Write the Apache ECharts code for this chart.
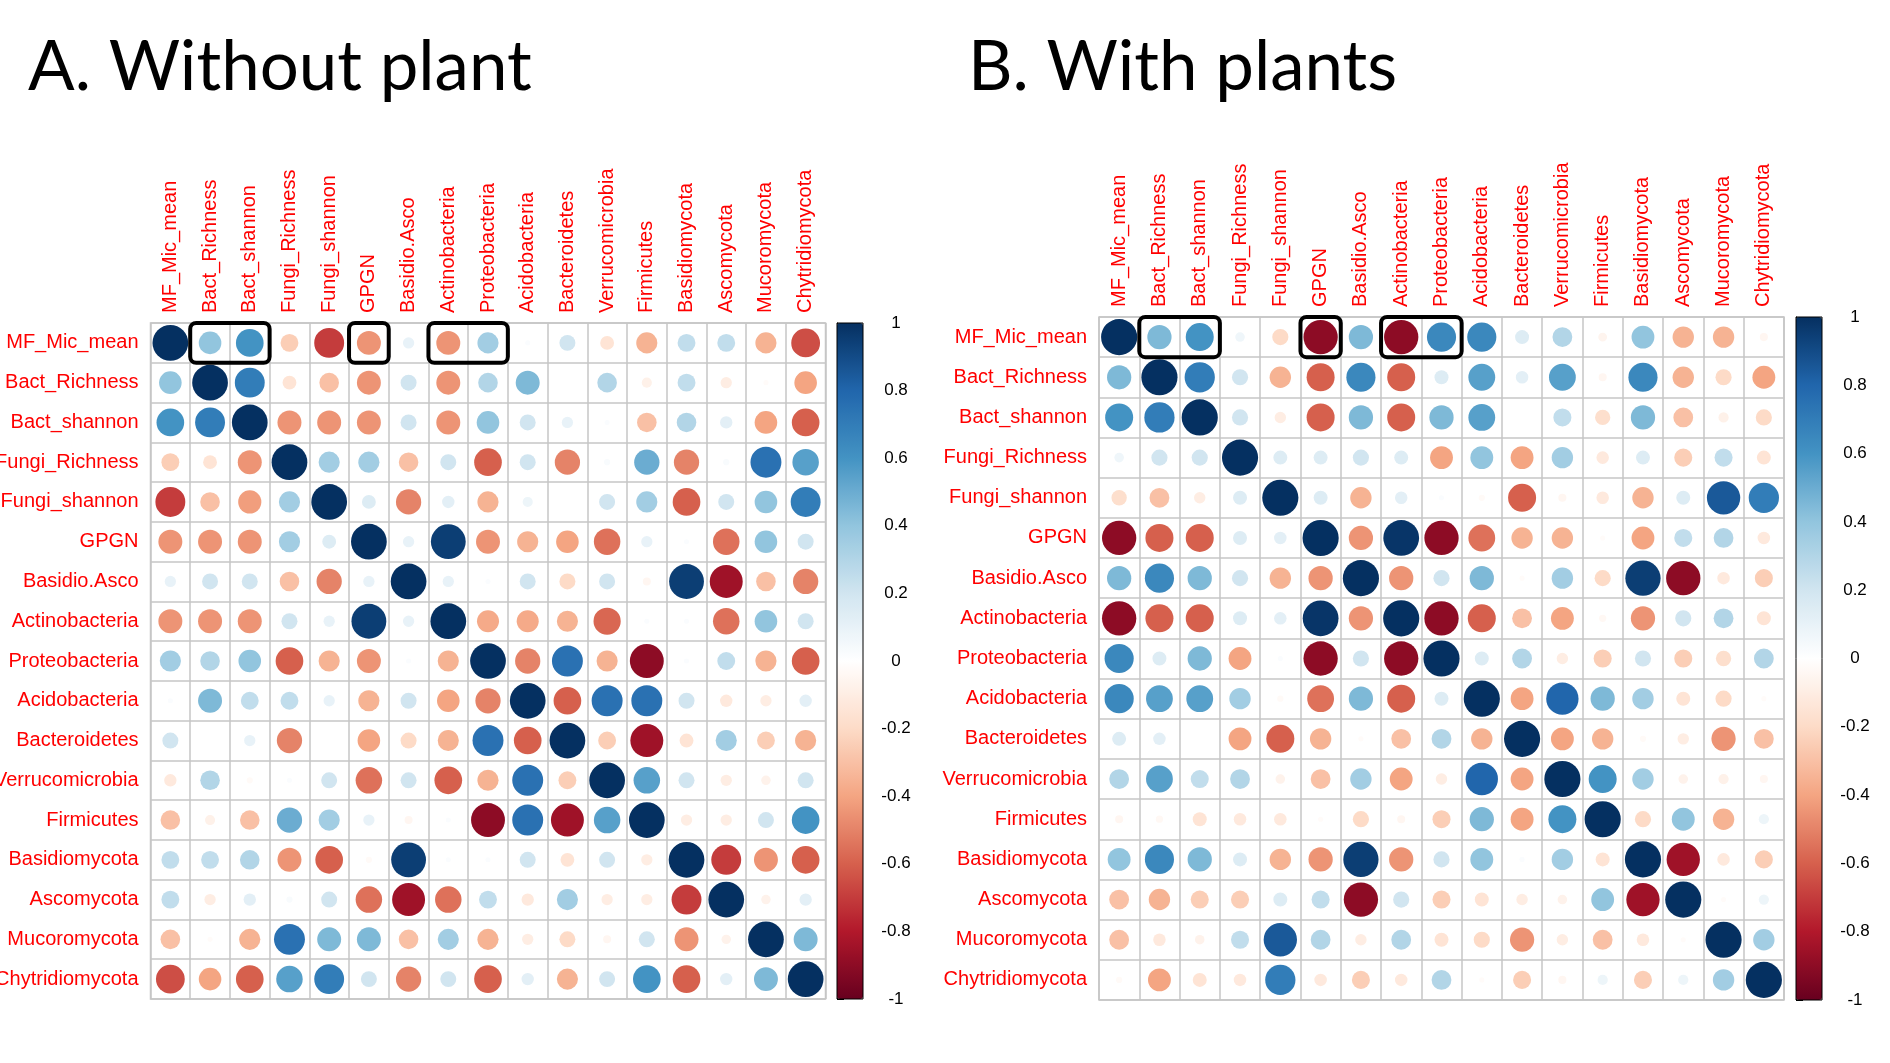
<!DOCTYPE html>
<html><head><meta charset="utf-8">
<script src="https://cdn.jsdelivr.net/npm/echarts@6/dist/echarts.min.js"></script>
<style>html,body{margin:0;padding:0;background:#fff}#c{width:1890px;height:1063px}</style>
</head><body><div id="c"></div><script>
const variables = ['MF_Mic_mean','Bact_Richness','Bact_shannon','Fungi_Richness','Fungi_shannon','GPGN','Basidio.Asco','Actinobacteria','Proteobacteria','Acidobacteria','Bacteroidetes','Verrucomicrobia','Firmicutes','Basidiomycota','Ascomycota','Mucoromycota','Chytridiomycota'];

// Panel A: without plant (rows follow `variables`)
const corrWithoutPlant = [
  [1, 0.4, 0.6, -0.25, -0.7, -0.45, 0.1, -0.45, 0.35, 0.02, 0.2, -0.15, -0.35, 0.25, 0.25, -0.35, -0.65],
  [0.4, 1, 0.7, -0.15, -0.3, -0.45, 0.2, -0.45, 0.3, 0.45, 0, 0.3, -0.08, 0.25, -0.1, -0.02, -0.4],
  [0.6, 0.7, 1, -0.45, -0.45, -0.45, 0.2, -0.45, 0.4, 0.2, 0.1, 0.02, -0.3, 0.3, 0.12, -0.4, -0.6],
  [-0.25, -0.15, -0.45, 1, 0.35, 0.35, -0.3, 0.2, -0.6, 0.2, -0.5, 0.03, 0.5, -0.5, 0.03, 0.75, 0.55],
  [-0.7, -0.3, -0.42, 0.35, 1, 0.15, -0.5, 0.12, -0.35, 0.08, 0, 0.2, 0.35, -0.6, 0.2, 0.4, 0.7],
  [-0.45, -0.45, -0.45, 0.35, 0.15, 1, 0.1, 0.95, -0.45, -0.35, -0.4, -0.55, 0.1, 0.02, -0.55, 0.4, 0.2],
  [0.1, 0.2, 0.2, -0.3, -0.5, 0.1, 1, 0.1, 0.02, 0.2, -0.2, 0.2, -0.05, 0.95, -0.85, -0.3, -0.5],
  [-0.45, -0.45, -0.45, 0.2, 0.1, 0.95, 0.1, 1, -0.38, -0.38, -0.35, -0.58, 0.02, 0.02, -0.55, 0.4, 0.2],
  [0.35, 0.3, 0.4, -0.6, -0.35, -0.45, 0.02, -0.35, 1, -0.5, 0.75, -0.35, -0.9, 0.02, 0.25, -0.35, -0.6],
  [0.02, 0.45, 0.25, 0.25, 0.1, -0.35, 0.2, -0.4, -0.5, 1, -0.6, 0.75, 0.75, 0.2, -0.12, -0.1, 0.12],
  [0.2, 0, 0.1, -0.5, 0, -0.4, -0.2, -0.35, 0.75, -0.6, 1, -0.25, -0.85, -0.15, 0.35, -0.25, -0.35],
  [-0.12, 0.3, -0.03, 0.02, 0.2, -0.55, 0.2, -0.6, -0.35, 0.75, -0.25, 1, 0.55, 0.2, -0.1, -0.07, 0.2],
  [-0.3, -0.08, -0.3, 0.5, 0.35, 0.1, -0.05, 0.02, -0.9, 0.75, -0.85, 0.55, 1, -0.1, -0.1, 0.2, 0.6],
  [0.25, 0.25, 0.3, -0.45, -0.6, -0.03, 0.95, 0.02, 0.02, 0.2, -0.15, 0.2, -0.1, 1, -0.7, -0.45, -0.6],
  [0.25, -0.1, 0.12, 0.03, 0.2, -0.55, -0.85, -0.55, 0.25, -0.12, 0.35, -0.1, -0.1, -0.7, 1, -0.07, 0.12],
  [-0.3, -0.02, -0.35, 0.75, 0.45, 0.45, -0.3, 0.35, -0.35, -0.1, -0.2, -0.05, 0.2, -0.45, -0.07, 1, 0.45],
  [-0.65, -0.4, -0.6, 0.55, 0.7, 0.2, -0.5, 0.2, -0.6, 0.12, -0.35, 0.2, 0.6, -0.6, 0.12, 0.45, 1]
];

// Panel B: with plants
const corrWithPlants = [
  [1, 0.45, 0.6, 0.07, -0.2, -0.9, 0.45, -0.9, 0.65, 0.65, 0.15, 0.3, -0.06, 0.4, -0.35, -0.35, -0.05],
  [0.45, 1, 0.7, 0.2, -0.35, -0.6, 0.65, -0.6, 0.15, 0.55, 0.12, 0.55, -0.05, 0.65, -0.35, -0.2, -0.4],
  [0.6, 0.7, 1, 0.2, -0.1, -0.6, 0.45, -0.6, 0.45, 0.55, 0, 0.25, -0.18, 0.45, -0.3, -0.08, -0.2],
  [0.07, 0.2, 0.2, 1, 0.15, 0.15, 0.2, 0.15, -0.4, 0.4, -0.4, 0.35, -0.12, 0.15, -0.25, 0.25, -0.15],
  [-0.18, -0.3, -0.1, 0.15, 1, 0.15, -0.35, 0.12, 0.02, -0.03, -0.6, -0.05, -0.12, -0.35, 0.15, 0.85, 0.7],
  [-0.9, -0.6, -0.6, 0.15, 0.12, 1, -0.45, 0.98, -0.9, -0.55, -0.35, -0.35, -0.02, -0.4, 0.25, 0.3, -0.12],
  [0.45, 0.65, 0.45, 0.2, -0.35, -0.45, 1, -0.45, 0.2, 0.45, -0.02, 0.35, -0.2, 0.95, -0.9, -0.12, -0.25],
  [-0.9, -0.6, -0.6, 0.15, 0.12, 0.98, -0.45, 1, -0.9, -0.6, -0.3, -0.4, -0.04, -0.45, 0.2, 0.3, -0.15],
  [0.65, 0.15, 0.45, -0.4, 0.02, -0.9, 0.2, -0.9, 1, 0.15, 0.3, -0.1, -0.25, 0.2, -0.25, -0.18, 0.3],
  [0.65, 0.55, 0.55, 0.35, -0.03, -0.55, 0.45, -0.6, 0.15, 1, -0.4, 0.8, 0.45, 0.35, -0.15, -0.2, -0.02],
  [0.15, 0.12, 0, -0.4, -0.6, -0.35, -0.02, -0.3, 0.3, -0.35, 1, -0.4, -0.35, -0.03, -0.1, -0.45, -0.3],
  [0.3, 0.55, 0.25, 0.3, -0.07, -0.3, 0.35, -0.4, -0.1, 0.8, -0.4, 1, 0.6, 0.35, -0.07, -0.08, -0.05],
  [-0.05, -0.04, -0.15, -0.12, -0.12, -0.02, -0.2, -0.05, -0.25, 0.45, -0.4, 0.6, 1, -0.2, 0.4, -0.35, 0.08],
  [0.4, 0.65, 0.45, 0.15, -0.35, -0.45, 0.95, -0.45, 0.2, 0.4, 0.02, 0.35, -0.15, 1, -0.85, -0.12, -0.25],
  [-0.3, -0.35, -0.25, -0.25, 0.15, 0.25, -0.9, 0.2, -0.25, -0.15, -0.1, -0.07, 0.4, -0.85, 1, -0.02, 0.08],
  [-0.3, -0.12, -0.07, 0.25, 0.85, 0.3, -0.1, 0.3, -0.15, -0.2, -0.45, -0.1, -0.3, -0.12, -0.02, 1, 0.35],
  [-0.03, -0.4, -0.15, -0.12, 0.7, -0.12, -0.25, -0.12, 0.3, -0.02, -0.25, -0.05, 0.08, -0.25, 0.08, 0.35, 1]
];

// Boxed cells in the first row: [first column, last column, row]
const highlightBoxesA = [[1, 2, 0], [5, 5, 0], [7, 8, 0]];
const highlightBoxesB = [[1, 2, 0], [5, 5, 0], [7, 8, 0]];

const colorbarTicks = [-1, -0.8, -0.6, -0.4, -0.2, 0, 0.2, 0.4, 0.6, 0.8, 1];
const panelTitles = ['A. Without plant', 'B. With plants'];
const rdbu = ['#67001F','#B2182B','#D6604D','#F4A582','#FDDBC7','#FFFFFF','#D1E5F0','#92C5DE','#4393C3','#2166AC','#053061'];

function toCells(m) {
  const out = [];
  m.forEach((row, i) => row.forEach((v, j) => out.push([j, i, v])));
  return out;
}

const labelFont = 'Liberation Sans, Arial, sans-serif';
const gridLine = '#C6C6C6';

function matrixAxes(gi) {
  return {
    x: {
      type: 'category', data: variables, gridIndex: gi, position: 'top',
      axisLine: {show: false}, axisTick: {show: false},
      splitLine: {show: true, interval: 0, lineStyle: {color: gridLine, width: 1.5}},
      axisLabel: {rotate: -90, interval: 0, margin: 10, color: '#FF0000', fontSize: 20, fontFamily: labelFont}
    },
    y: {
      type: 'category', data: variables, gridIndex: gi, inverse: true,
      axisLine: {show: false}, axisTick: {show: false},
      splitLine: {show: true, interval: 0, lineStyle: {color: gridLine, width: 1.5}},
      axisLabel: {interval: 0, margin: 12, color: '#FF0000', fontSize: 20, fontFamily: labelFont}
    }
  };
}

function colorbarAxes(gi) {
  return {
    x: {type: 'value', gridIndex: gi, show: false, min: 0, max: 1},
    y: {
      type: 'value', gridIndex: gi, position: 'right', min: colorbarTicks[0], max: colorbarTicks[colorbarTicks.length - 1], interval: 0.2,
      axisLine: {show: true, lineStyle: {color: '#000', width: 1}},
      axisTick: {show: true, length: 7, lineStyle: {color: '#000'}},
      splitLine: {show: false},
      axisLabel: {margin: 33, align: 'center', color: '#000', fontSize: 17, fontFamily: labelFont,
        formatter: v => String(Math.round(v * 10) / 10)}
    }
  };
}

function renderCircle(params, api) {
  const c = api.coord([api.value(0), api.value(1)]);
  const s = api.size([1, 1]);
  const d = Math.min(s[0], s[1]);
  const r = d * 0.45 * Math.sqrt(Math.abs(api.value(2)));
  return {type: 'circle', shape: {cx: c[0], cy: c[1], r: r}, style: {fill: api.visual('color')}};
}

function renderBox(params, api) {
  const a = api.coord([api.value(0), api.value(2)]);
  const b = api.coord([api.value(1), api.value(2)]);
  const s = api.size([1, 1]);
  return {
    type: 'rect',
    shape: {x: a[0] - s[0] / 2, y: a[1] - s[1] / 2, width: b[0] - a[0] + s[0], height: s[1], r: 6},
    style: {fill: 'none', stroke: '#000', lineWidth: 4}
  };
}

const gridA = {left: 150.5, top: 323, width: 675, height: 676};
const gridB = {left: 1099, top: 317, width: 685, height: 683};
const cbA = {left: 837, top: 323, width: 26, height: 676};
const cbB = {left: 1796, top: 317, width: 26, height: 683};

const mA = matrixAxes(0), mB = matrixAxes(1), cA = colorbarAxes(2), cB = colorbarAxes(3);

const titleStyle = {fontFamily: 'Lato', fontWeight: 'normal', fontSize: 69, color: '#000'};
const gridBase = {show: true, borderColor: gridLine, borderWidth: 1.5, containLabel: false, outerBoundsMode: 'none'};
const cbBase = {show: true, borderColor: '#000', borderWidth: 1, backgroundColor: 'transparent', z: 10, containLabel: false, outerBoundsMode: 'none'};

const chart = echarts.init(document.getElementById('c'), null, {renderer: 'canvas'});
chart.setOption({
  backgroundColor: '#fff',
  animation: false,
  title: [
    {text: panelTitles[0], left: 28, top: 33, padding: 0, textStyle: titleStyle},
    {text: panelTitles[1], left: 968, top: 33, padding: 0, textStyle: titleStyle}
  ],
  grid: [
    Object.assign({}, gridBase, gridA),
    Object.assign({}, gridBase, gridB),
    Object.assign({}, cbBase, cbA),
    Object.assign({}, cbBase, cbB)
  ],
  xAxis: [mA.x, mB.x, cA.x, cB.x],
  yAxis: [mA.y, mB.y, cA.y, cB.y],
  visualMap: [
    {type: 'continuous', min: -1, max: 1, dimension: 2, seriesIndex: 0, inRange: {color: rdbu},
     calculable: false, hoverLink: false, orient: 'vertical', left: cbA.left, top: cbA.top,
     itemWidth: cbA.width, itemHeight: cbA.height, padding: 0},
    {type: 'continuous', min: -1, max: 1, dimension: 2, seriesIndex: 2, inRange: {color: rdbu},
     calculable: false, hoverLink: false, orient: 'vertical', left: cbB.left, top: cbB.top,
     itemWidth: cbB.width, itemHeight: cbB.height, padding: 0}
  ],
  series: [
    {type: 'custom', xAxisIndex: 0, yAxisIndex: 0, renderItem: renderCircle, data: toCells(corrWithoutPlant), encode: {x: 0, y: 1}},
    {type: 'custom', xAxisIndex: 0, yAxisIndex: 0, renderItem: renderBox, data: highlightBoxesA, encode: {x: [0, 1], y: 2}, z: 5},
    {type: 'custom', xAxisIndex: 1, yAxisIndex: 1, renderItem: renderCircle, data: toCells(corrWithPlants), encode: {x: 0, y: 1}},
    {type: 'custom', xAxisIndex: 1, yAxisIndex: 1, renderItem: renderBox, data: highlightBoxesB, encode: {x: [0, 1], y: 2}, z: 5}
  ]
});
</script></body></html>
